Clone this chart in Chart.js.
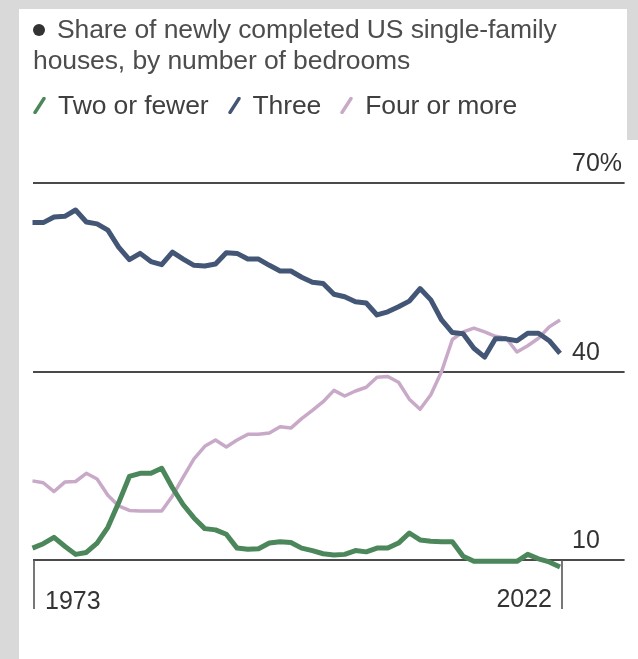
<!DOCTYPE html>
<html>
<head>
<meta charset="utf-8">
<title>New single-family houses by bedrooms</title>
<script src="https://cdn.jsdelivr.net/npm/chart.js@4.4.1/dist/chart.umd.min.js"></script>
<style>
  html, body { margin: 0; padding: 0; background: #fff; }
  #wrap { position: relative; width: 638px; height: 659px; overflow: hidden; background: #fff; font-family: "Liberation Sans", Arial, sans-serif; }
  .edge { position: absolute; background: #d9d9d9; }
  #chart { position: absolute; left: 0; top: 0; }
  #title { position: absolute; left: 33px; top: 14px; font-size: 26.5px; line-height: 31px; color: #4d4d4d; letter-spacing: -0.1px; }
  #title .dot { display: inline-block; width: 12px; height: 12px; border-radius: 50%; background: #333; margin-right: 12px; vertical-align: 2px; }
  #legend { position: absolute; left: 33px; top: 90px; font-size: 26.5px; line-height: 31px; color: #404040; display: flex; letter-spacing: -0.1px; }
  #legend .item { display: flex; align-items: center; margin-right: 19px; }
  #legend svg { margin-right: 12px; }
</style>
</head>
<body>
<div id="wrap">
  <div class="edge" style="left:0;top:0;width:19px;height:659px"></div>
  <div class="edge" style="left:0;top:0;width:638px;height:9px"></div>
  <div class="edge" style="left:627px;top:0;width:11px;height:140px"></div>
  <canvas id="chart" width="638" height="659"></canvas>
  <div id="title"><span class="dot"></span>Share of newly completed US single-family<br>houses, by number of bedrooms</div>
  <div id="legend"></div>
</div>
<script>
// Years on the x axis
var years = [1973, 1974, 1975, 1976, 1977, 1978, 1979, 1980, 1981, 1982,
             1983, 1984, 1985, 1986, 1987, 1988, 1989, 1990, 1991, 1992,
             1993, 1994, 1995, 1996, 1997, 1998, 1999, 2000, 2001, 2002,
             2003, 2004, 2005, 2006, 2007, 2008, 2009, 2010, 2011, 2012,
             2013, 2014, 2015, 2016, 2017, 2018, 2019, 2020, 2021, 2022];

// Share of completions (%) by number of bedrooms
var twoOrFewer = [11.9, 12.6, 13.6, 12.2, 10.9, 11.2, 12.7, 15.2, 19.1, 23.3,
                  23.8, 23.8, 24.6, 21.5, 18.8, 16.7, 15.0, 14.8, 14.1, 11.9,
                  11.7, 11.8, 12.7, 12.9, 12.8, 11.9, 11.5, 11.0, 10.8, 10.9,
                  11.5, 11.3, 11.9, 11.9, 12.7, 14.3, 13.2, 13.0, 12.9, 12.9,
                  10.6, 9.8, 9.8, 9.8, 9.8, 9.8, 10.9, 10.2, 9.7, 8.9];

var three = [63.7, 63.7, 64.6, 64.7, 65.7, 63.8, 63.5, 62.5, 59.8, 57.8,
             58.8, 57.5, 57.0, 59.0, 57.9, 56.9, 56.8, 57.1, 58.9, 58.8,
             57.9, 57.9, 56.9, 56.0, 56.0, 55.0, 54.2, 54.0, 52.3, 51.9,
             51.1, 50.9, 49.0, 49.5, 50.3, 51.2, 53.2, 51.4, 48.2, 46.2,
             46.0, 43.7, 42.3, 45.2, 45.2, 44.9, 46.1, 46.1, 44.9, 42.9];

var fourOrMore = [22.6, 22.3, 20.9, 22.4, 22.5, 23.8, 22.9, 20.3, 18.6, 17.9,
                  17.8, 17.8, 17.8, 20.2, 23.2, 26.1, 28.1, 29.1, 28.0, 29.1,
                  30.0, 30.0, 30.2, 31.2, 31.0, 32.5, 33.8, 35.2, 37.0, 36.1,
                  36.9, 37.5, 39.1, 39.2, 38.3, 35.6, 34.0, 36.3, 40.0, 45.1,
                  46.3, 46.9, 46.3, 45.6, 45.3, 43.1, 44.1, 45.3, 47.1, 48.2];

var yTicks = [10, 40, 70];
var xTicks = [1973, 2022];

var seriesNames = ['Two or fewer', 'Three', 'Four or more'];
var seriesColors = ['#4c875b', '#435676', '#c8a9c8'];

var FONT = '"Liberation Sans", Arial, sans-serif';

function toPoints(values) {
    return values.map(function(v, i) { return { x: years[i], y: v }; });
}

// Legend with slanted strokes
var legendEl = document.getElementById('legend');
seriesNames.forEach(function(name, i) {
    var item = document.createElement('span');
    item.className = 'item';
    item.innerHTML = '<svg width="13" height="17" viewBox="0 0 13 17">' +
        '<line x1="2" y1="15.5" x2="11" y2="1.5" stroke="' + seriesColors[i] +
        '" stroke-width="3.4" stroke-linecap="round"/></svg>' + name;
    legendEl.appendChild(item);
});

// Axis labels and year markers, placed through the chart scales
var axisLabels = {
    id: 'axisLabels',
    afterDraw: function(chart) {
        var ctx = chart.ctx;
        var xs = chart.scales.x;
        var ys = chart.scales.y;
        ctx.save();
        ctx.font = '25px ' + FONT;
        ctx.fillStyle = '#333';
        ctx.textBaseline = 'alphabetic';

        ctx.textAlign = 'left';
        yTicks.forEach(function(v) {
            var label = v === 70 ? '70%' : String(v);
            ctx.fillText(label, 572, ys.getPixelForValue(v) - 12);
        });

        var base = ys.getPixelForValue(10);
        ctx.strokeStyle = '#555';
        ctx.lineWidth = 1.6;
        xTicks.forEach(function(yr, i) {
            var px = Math.round(xs.getPixelForValue(yr)) + (i === 0 ? 1 : 2);
            ctx.beginPath();
            ctx.moveTo(px, base);
            ctx.lineTo(px, base + 49);
            ctx.stroke();
            if (i === 0) {
                ctx.textAlign = 'left';
                ctx.fillText(String(yr), px + 11, base + 49);
            } else {
                ctx.textAlign = 'right';
                ctx.fillText(String(yr), px - 10, base + 47);
            }
        });
        ctx.restore();
    }
};

new Chart(document.getElementById('chart'), {
    type: 'line',
    data: {
        datasets: [
            {
                label: seriesNames[0],
                data: toPoints(twoOrFewer),
                borderColor: seriesColors[0],
                borderWidth: 5,
                order: 0
            },
            {
                label: seriesNames[1],
                data: toPoints(three),
                borderColor: seriesColors[1],
                borderWidth: 5,
                order: 1
            },
            {
                label: seriesNames[2],
                data: toPoints(fourOrMore),
                borderColor: seriesColors[2],
                borderWidth: 3.5,
                order: 2
            }
        ]
    },
    options: {
        responsive: false,
        animation: false,
        layout: {
            padding: { left: 32.5, right: 13.4, top: 183, bottom: 86.4 }
        },
        elements: {
            point: { radius: 0 },
            line: { tension: 0, borderJoinStyle: 'round', borderCapStyle: 'butt' }
        },
        datasets: {
            line: { clip: false }
        },
        scales: {
            x: {
                type: 'linear',
                min: 1973,
                max: 2028,
                display: false
            },
            y: {
                min: 8,
                max: 70,
                afterBuildTicks: function(scale) {
                    scale.ticks = yTicks.map(function(v) { return { value: v }; });
                },
                grid: {
                    color: '#4a4a4a',
                    lineWidth: 2,
                    drawTicks: false
                },
                border: { display: false },
                ticks: { display: false }
            }
        },
        plugins: {
            legend: { display: false },
            tooltip: { enabled: false }
        }
    },
    plugins: [axisLabels]
});
</script>
</body>
</html>
